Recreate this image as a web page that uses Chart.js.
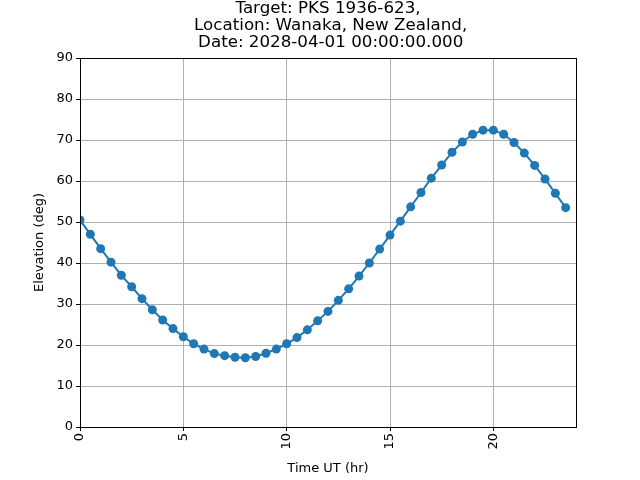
<!DOCTYPE html>
<html>
<head>
<meta charset="utf-8">
<script src="https://cdn.jsdelivr.net/npm/chart.js@4/dist/chart.umd.min.js"></script>
<style>
  html, body { margin: 0; padding: 0; background: #fff; }
  #wrap { width: 640px; height: 480px; }
</style>
</head>
<body>
<div id="wrap"><canvas id="c" width="640" height="480"></canvas></div>
<script>
  // hours UT, sampled every half hour
  const HOURS = [
    0, 0.5, 1, 1.5, 2, 2.5, 3, 3.5, 4, 4.5, 5, 5.5, 6, 6.5, 7, 7.5,
    8, 8.5, 9, 9.5, 10, 10.5, 11, 11.5, 12, 12.5, 13, 13.5, 14, 14.5, 15, 15.5,
    16, 16.5, 17, 17.5, 18, 18.5, 19, 19.5, 20, 20.5, 21, 21.5, 22, 22.5, 23, 23.5
  ];
  const ELEVATION = [
    50.5, 47.0, 43.5, 40.2, 37.0, 34.2, 31.3, 28.6, 26.1, 24.0, 22.0, 20.3, 19.0, 17.9, 17.4, 17.0,
    16.9, 17.2, 18.0, 19.0, 20.3, 21.8, 23.7, 25.9, 28.2, 30.9, 33.7, 36.8, 40.0, 43.4, 46.8, 50.2,
    53.7, 57.2, 60.7, 63.9, 67.0, 69.5, 71.4, 72.4, 72.4, 71.4, 69.4, 66.8, 63.8, 60.5, 57.0, 53.5
  ];
  const X_TICKS = [0, 5, 10, 15, 20];
  const Y_TICKS = [0, 10, 20, 30, 40, 50, 60, 70, 80, 90];
  const TITLE_LINES = [
    'Target: PKS 1936-623,',
    ' Location: Wanaka, New Zealand,',
    ' Date: 2028-04-01 00:00:00.000'
  ];

  const FONT = "'DejaVu Sans', sans-serif";

  // black box around the plot area, like matplotlib spines
  const frame = {
    id: 'frame',
    afterDraw(chart) {
      const a = chart.chartArea, ctx = chart.ctx;
      ctx.save();
      ctx.strokeStyle = '#000';
      ctx.lineWidth = 1;
      ctx.strokeRect(a.left + 0.5, a.top + 0.5, a.right - a.left, a.bottom - a.top);
      ctx.restore();
    }
  };

  // title centred over the plot area (matplotlib style), not over the canvas
  const axesTitle = {
    id: 'axesTitle',
    afterDraw(chart) {
      const a = chart.chartArea, ctx = chart.ctx;
      const cx = (a.left + a.right) / 2;
      ctx.save();
      ctx.fillStyle = '#000';
      ctx.font = '16.7px ' + FONT;
      ctx.textAlign = 'center';
      ctx.textBaseline = 'middle';
      TITLE_LINES.forEach(function (line, i) {
        ctx.fillText(line, cx, 9 + i * 17);
      });
      ctx.restore();
    }
  };

  new Chart(document.getElementById('c'), {
    type: 'scatter',
    data: {
      datasets: [{
        data: HOURS.map((h, i) => ({ x: h, y: ELEVATION[i] })),
        showLine: true,
        borderColor: '#1f77b4',
        backgroundColor: '#1f77b4',
        borderWidth: 2,
        pointRadius: 4.5,
        pointHoverRadius: 4.5,
        pointBorderWidth: 0
      }]
    },
    options: {
      responsive: false,
      animation: false,
      layout: { padding: { top: 58, right: 64, left: 10, bottom: 0 } },
      plugins: {
        legend: { display: false },
        tooltip: { enabled: false },
        title: { display: false }
      },
      scales: {
        x: {
          type: 'linear',
          min: 0,
          max: 24,
          afterBuildTicks(s) { s.ticks = X_TICKS.map(v => ({ value: v })); },
          afterFit(s) { s.height = 53; },
          grid: { color: '#b0b0b0', tickColor: '#000', tickLength: 4 },
          border: { color: '#000' },
          ticks: {
            color: '#000',
            font: { family: FONT, size: 13 },
            maxRotation: 90,
            minRotation: 90,
            padding: 2
          },
          title: {
            display: true,
            text: 'Time UT (hr)',
            color: '#000',
            font: { family: FONT, size: 13 },
            padding: { top: 0, bottom: 4 }
          }
        },
        y: {
          min: 0,
          max: 90,
          afterBuildTicks(s) { s.ticks = Y_TICKS.map(v => ({ value: v })); },
          afterFit(s) { s.width = 70; },
          grid: { color: '#b0b0b0', tickColor: '#000', tickLength: 4 },
          border: { color: '#000' },
          ticks: {
            color: '#000',
            font: { family: FONT, size: 13 },
            padding: 3
          },
          title: {
            display: true,
            text: 'Elevation (deg)',
            color: '#000',
            font: { family: FONT, size: 13 },
            padding: { top: 22, bottom: 0 }
          }
        }
      }
    },
    plugins: [frame, axesTitle]
  });
</script>
</body>
</html>
